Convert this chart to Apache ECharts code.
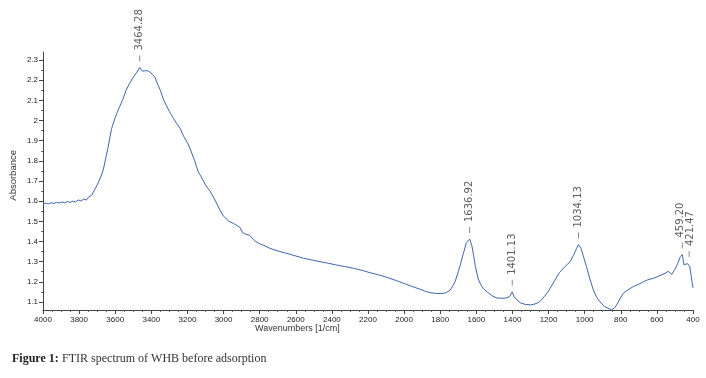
<!DOCTYPE html>
<html>
<head>
<meta charset="utf-8">
<script src="https://cdn.jsdelivr.net/npm/echarts@6/dist/echarts.min.js"></script>
<style>html,body{margin:0;padding:0;background:#fff}#c{width:706px;height:378px}</style>
</head>
<body>
<div id="c"></div>
<script>
// wavenumbers (1/cm)
const wavenumbers = [4000,3985,3970,3955,3940,3925,3910,3895,3880,3865,3850,3835,3820,3805,3790,3775,3760,3745,3730,3715,3700,3690,3680,3670,3660,3650,3640,3630,3620,3600,3580,3560,3540,3520,3500,3480,3464.28,3450,3440,3425,3410,3395,3380,3365,3350,3335,3320,3300,3280,3260,3240,3220,3200,3185,3160,3140,3120,3100,3075,3050,3020,3000,2970,2946,2925,2909,2895,2880,2854,2830,2808,2780,2743,2700,2650,2600,2558,2500,2466,2420,2373,2330,2281,2230,2189,2140,2096,2050,2004,1960,1912,1880,1857,1820,1790,1770,1746,1730,1718,1700,1690,1672,1655,1636.92,1625,1615,1605,1590,1575,1560,1540,1515,1490,1460,1432,1415,1401.13,1390,1375,1355,1330,1300,1275,1250,1225,1200,1170,1140,1110,1080,1060,1045,1034.13,1020,1005,990,970,952,935,915,890,865,850,835,823,805,786,760,731,700,675,650,620,590,555,537,518,500,485,470,459.20,450,440,430,421.47,418,410,405,400];
// absorbance values
const absorbance = [1.588,1.590,1.587,1.592,1.589,1.594,1.591,1.596,1.592,1.598,1.594,1.600,1.596,1.606,1.601,1.610,1.606,1.622,1.630,1.655,1.680,1.700,1.720,1.745,1.780,1.825,1.865,1.915,1.960,2.015,2.060,2.100,2.150,2.185,2.215,2.240,2.263,2.245,2.240,2.248,2.242,2.230,2.215,2.180,2.150,2.110,2.080,2.045,2.015,1.985,1.960,1.920,1.890,1.860,1.800,1.745,1.715,1.680,1.650,1.610,1.556,1.525,1.500,1.490,1.478,1.470,1.445,1.437,1.430,1.405,1.392,1.382,1.366,1.353,1.341,1.328,1.317,1.306,1.300,1.292,1.283,1.276,1.267,1.256,1.245,1.234,1.222,1.208,1.193,1.178,1.163,1.152,1.146,1.142,1.142,1.145,1.158,1.180,1.200,1.250,1.280,1.340,1.395,1.412,1.380,1.330,1.275,1.215,1.185,1.165,1.150,1.132,1.120,1.118,1.120,1.128,1.150,1.125,1.110,1.095,1.088,1.085,1.090,1.100,1.125,1.155,1.200,1.245,1.275,1.300,1.335,1.365,1.385,1.365,1.320,1.275,1.210,1.160,1.125,1.100,1.078,1.066,1.062,1.070,1.085,1.115,1.143,1.160,1.176,1.188,1.200,1.210,1.217,1.228,1.242,1.252,1.236,1.262,1.290,1.325,1.335,1.285,1.278,1.290,1.293,1.275,1.230,1.195,1.170];
// annotated peaks
const peakWavenumbers = [3464.28, 1636.92, 1401.13, 1034.13, 459.20, 421.47];
const peakAbsorbance = [2.263, 1.412, 1.150, 1.385, 1.335, 1.293];
const peakLabels = ['3464.28', '1636.92', '1401.13', '1034.13', '459.20', '421.47'];
// axis tick labels
const yTickValues = [1.1,1.2,1.3,1.4,1.5,1.6,1.7,1.8,1.9,2.0,2.1,2.2,2.3];
const yMinorValues = [1.15,1.25,1.35,1.45,1.55,1.65,1.75,1.85,1.95,2.05,2.15,2.25];

const lineData = wavenumbers.map((w, i) => [w, absorbance[i]]);
const labelShift = { '459.20': -2, '421.47': 1 };
const peakData = peakWavenumbers.map((w, i) => ({
  value: [w, peakAbsorbance[i]], name: peakLabels[i],
  label: { offset: [0, labelShift[peakLabels[i]] || 0] }
}));

const chart = echarts.init(document.getElementById('c'), null, { renderer: 'canvas' });
const axisFont = { fontFamily: 'Liberation Sans', fontSize: 8, color: '#222' };
chart.setOption({
  animation: false,
  backgroundColor: '#fff',
  grid: { left: 43, right: 13, top: 52, bottom: 68 },
  xAxis: {
    type: 'value', min: 400, max: 4000, interval: 200, inverse: true,
    axisLine: { show: true, lineStyle: { color: '#444', width: 1 } },
    axisTick: { show: true, length: 4, lineStyle: { color: '#444' } },
    minorTick: { show: true, splitNumber: 4, length: 2, lineStyle: { color: '#666' } },
    splitLine: { show: false },
    axisLabel: Object.assign({ margin: 6, formatter: v => String(v) }, axisFont)
  },
  yAxis: [{
    type: 'value', min: 1.06, max: 2.34,
    axisLine: { show: true, lineStyle: { color: '#444', width: 1 } },
    axisTick: { show: true, length: 4, customValues: yTickValues, lineStyle: { color: '#444' } },
    splitLine: { show: false },
    axisLabel: Object.assign({ margin: 5, customValues: yTickValues, formatter: v => String(Math.round(v * 10) / 10) }, axisFont)
  }, {
    type: 'value', min: 1.06, max: 2.34, position: 'left',
    axisLine: { show: false },
    axisTick: { show: true, length: 2, customValues: yMinorValues, lineStyle: { color: '#666' } },
    splitLine: { show: false },
    axisLabel: { show: false }
  }],
  series: [{
    type: 'line', data: lineData, showSymbol: false, symbol: 'none',
    lineStyle: { color: '#3f65ad', width: 1 }, z: 3
  }, {
    type: 'scatter', data: peakData, symbol: 'rect', symbolSize: [1, 6], symbolOffset: [0, -9],
    itemStyle: { color: '#5a6f96' }, z: 4,
    label: {
      show: true, position: 'top', distance: 5, rotate: 90, align: 'left', verticalAlign: 'middle',
      formatter: p => p.name, fontFamily: 'DejaVu Sans', fontSize: 10, color: '#333'
    }
  }],
  graphic: [{
    type: 'text', left: 8, top: 150, rotation: Math.PI / 2,
    style: { text: 'Absorbance', fontFamily: 'Liberation Sans', fontSize: 9.5, fill: '#333' }
  }, {
    type: 'text', left: 255, top: 324,
    style: { text: 'Wavenumbers [1/cm]', fontFamily: 'Liberation Sans', fontSize: 9, fill: '#333' }
  }, {
    type: 'text', left: 12, top: 353,
    style: {
      text: '{b|Figure 1:} {n|FTIR spectrum of WHB before adsorption}',
      rich: {
        b: { fontFamily: 'Liberation Serif', fontSize: 12, fontWeight: 'bold', fill: '#222' },
        n: { fontFamily: 'Liberation Serif', fontSize: 12, fill: '#333' }
      }
    }
  }]
});
</script>
</body>
</html>
